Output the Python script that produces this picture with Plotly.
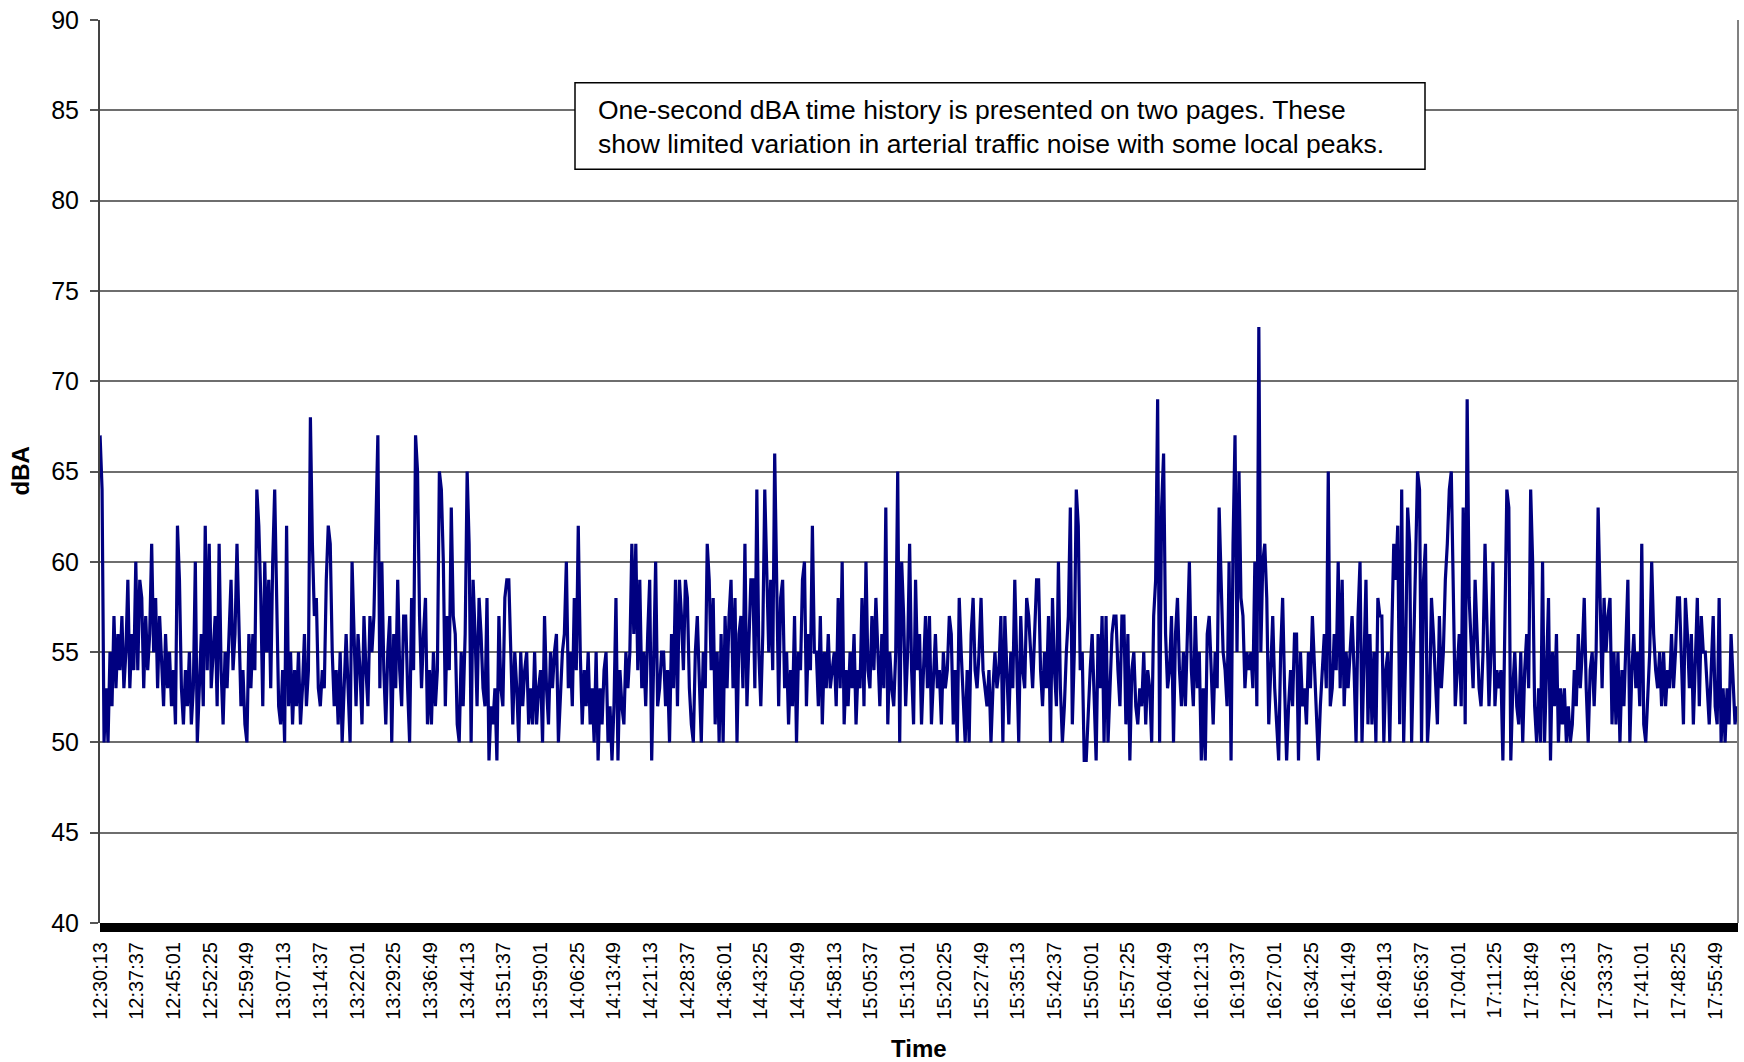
import pandas as pd
import plotly.graph_objects as go

# Sound level record (dBA), one reading every 24 s from 12:30:13
start_time = "2000-01-01 12:30:13"
step_seconds = 24
levels = [
    67, 64, 50, 53, 50, 55, 52, 57, 53, 56, 54, 57, 53, 55, 59, 53, 56, 54, 60, 54,
    59, 58, 53, 57, 54, 56, 61, 55, 58, 53, 57, 54, 52, 56, 53, 55, 52, 54, 51, 62,
    59, 53, 51, 54, 52, 55, 51, 53, 60, 50, 53, 56, 52, 62, 54, 61, 53, 55, 57, 52,
    61, 54, 51, 55, 53, 56, 59, 54, 56, 61, 56, 52, 54, 51, 50, 56, 53, 56, 54, 64,
    62, 58, 52, 60, 55, 59, 53, 60, 64, 57, 52, 51, 54, 50, 62, 52, 55, 51, 54, 52,
    55, 51, 53, 56, 52, 54, 68, 61, 57, 58, 53, 52, 54, 53, 59, 62, 61, 55, 52, 54,
    51, 55, 50, 53, 56, 53, 50, 60, 56, 52, 56, 54, 51, 57, 54, 52, 57, 55, 57, 62,
    67, 53, 60, 54, 51, 55, 57, 50, 56, 53, 59, 54, 52, 57, 57, 53, 50, 58, 54, 67,
    65, 57, 53, 56, 58, 51, 54, 51, 55, 52, 54, 65, 64, 60, 52, 57, 54, 63, 57, 56,
    51, 50, 55, 52, 56, 65, 61, 50, 59, 56, 52, 58, 56, 53, 52, 58, 49, 52, 51, 53,
    49, 57, 53, 52, 58, 59, 59, 55, 51, 55, 53, 50, 55, 52, 54, 55, 51, 53, 51, 55,
    51, 53, 54, 50, 57, 53, 51, 55, 53, 55, 56, 50, 53, 55, 56, 60, 53, 55, 52, 58,
    54, 62, 55, 51, 54, 52, 55, 51, 53, 50, 55, 49, 53, 51, 54, 55, 50, 52, 49, 52,
    58, 49, 54, 52, 51, 55, 53, 55, 61, 56, 61, 54, 59, 53, 55, 52, 56, 59, 49, 54,
    60, 52, 53, 55, 55, 52, 54, 50, 56, 53, 59, 52, 59, 57, 54, 59, 58, 53, 51, 50,
    55, 57, 53, 50, 55, 53, 61, 59, 54, 58, 51, 55, 50, 56, 50, 57, 53, 57, 59, 53,
    58, 50, 56, 57, 53, 61, 52, 55, 59, 59, 53, 64, 55, 52, 56, 64, 60, 55, 59, 54,
    66, 59, 52, 58, 59, 53, 55, 51, 54, 52, 57, 50, 55, 54, 59, 60, 52, 56, 54, 62,
    55, 55, 52, 57, 51, 55, 53, 56, 53, 54, 55, 52, 58, 53, 60, 51, 54, 52, 55, 53,
    56, 51, 54, 53, 58, 52, 60, 54, 53, 57, 54, 58, 55, 52, 56, 53, 63, 51, 55, 53,
    52, 55, 65, 50, 60, 57, 52, 55, 61, 54, 51, 59, 54, 56, 51, 54, 57, 53, 57, 51,
    54, 56, 53, 54, 51, 55, 53, 54, 57, 56, 51, 54, 50, 58, 55, 52, 50, 54, 50, 56,
    58, 54, 53, 55, 58, 54, 53, 52, 54, 50, 53, 55, 53, 54, 57, 50, 57, 54, 51, 55,
    53, 59, 54, 50, 57, 54, 53, 58, 57, 55, 53, 56, 59, 59, 54, 52, 55, 53, 57, 50,
    58, 54, 52, 60, 53, 50, 52, 55, 57, 63, 51, 55, 64, 62, 54, 55, 49, 49, 52, 54,
    56, 52, 49, 56, 53, 57, 50, 57, 50, 53, 56, 57, 57, 54, 52, 57, 57, 51, 56, 49,
    54, 55, 52, 51, 53, 52, 55, 51, 54, 53, 50, 57, 59, 69, 50, 63, 66, 56, 53, 54,
    57, 50, 56, 58, 54, 52, 55, 52, 56, 60, 54, 52, 57, 53, 55, 49, 53, 49, 56, 57,
    54, 51, 55, 53, 63, 58, 55, 54, 52, 60, 49, 61, 67, 55, 65, 58, 57, 53, 55, 54,
    55, 53, 60, 52, 73, 55, 60, 61, 58, 51, 54, 57, 53, 51, 49, 55, 58, 53, 49, 52,
    54, 52, 56, 56, 49, 55, 52, 53, 51, 55, 53, 57, 54, 52, 49, 52, 54, 56, 53, 65,
    52, 53, 56, 54, 60, 53, 59, 52, 55, 53, 55, 57, 54, 50, 57, 60, 50, 55, 59, 51,
    56, 51, 55, 50, 58, 57, 57, 50, 54, 55, 50, 56, 61, 59, 62, 51, 64, 50, 55, 63,
    61, 50, 56, 60, 65, 64, 50, 59, 61, 50, 52, 58, 56, 53, 51, 57, 53, 55, 59, 61,
    64, 65, 57, 52, 54, 56, 52, 63, 51, 69, 58, 55, 53, 59, 56, 53, 52, 55, 61, 57,
    52, 55, 60, 52, 54, 53, 54, 49, 57, 64, 63, 49, 53, 55, 52, 51, 55, 50, 54, 56,
    53, 64, 60, 52, 50, 53, 50, 60, 50, 55, 58, 49, 55, 52, 56, 50, 53, 51, 53, 50,
    52, 50, 51, 54, 52, 56, 53, 55, 58, 53, 50, 54, 55, 52, 55, 63, 58, 53, 58, 55,
    57, 58, 51, 55, 51, 55, 50, 54, 52, 55, 59, 50, 54, 56, 53, 55, 52, 61, 51, 50,
    53, 55, 60, 56, 54, 53, 55, 52, 55, 52, 54, 53, 56, 53, 55, 58, 58, 54, 51, 58,
    56, 53, 56, 51, 54, 58, 52, 57, 55, 55, 53, 51, 54, 57, 52, 51, 58, 50, 53, 50,
    53, 51, 56, 53, 51, 52,
]

tick_labels = [
    "12:30:13", "12:37:37", "12:45:01", "12:52:25", "12:59:49", "13:07:13", "13:14:37",
    "13:22:01", "13:29:25", "13:36:49", "13:44:13", "13:51:37", "13:59:01", "14:06:25",
    "14:13:49", "14:21:13", "14:28:37", "14:36:01", "14:43:25", "14:50:49", "14:58:13",
    "15:05:37", "15:13:01", "15:20:25", "15:27:49", "15:35:13", "15:42:37", "15:50:01",
    "15:57:25", "16:04:49", "16:12:13", "16:19:37", "16:27:01", "16:34:25", "16:41:49",
    "16:49:13", "16:56:37", "17:04:01", "17:11:25", "17:18:49", "17:26:13", "17:33:37",
    "17:41:01", "17:48:25", "17:55:49",
]
y_ticks = [40, 45, 50, 55, 60, 65, 70, 75, 80, 85, 90]

note_text = ("One-second dBA time history is presented on two pages. These<br>"
             "show limited variation in arterial traffic noise with some local peaks.")

times = pd.date_range(start=start_time, periods=len(levels), freq=f"{step_seconds}s")
tick_vals = pd.to_datetime(["2000-01-01 " + t for t in tick_labels])

FONT = "Liberation Sans, Arial, sans-serif"

# plot-area geometry in pixels, used to place the note box
PLOT_L, PLOT_T, PLOT_W, PLOT_H = 100, 16, 1638, 907


def px_x(px):
    return (px - PLOT_L) / PLOT_W


def px_y(py):
    return (PLOT_T + PLOT_H - py) / PLOT_H


fig = go.Figure()
fig.add_trace(go.Scatter(
    x=times, y=levels, mode="lines",
    line=dict(color="#000080", width=3.2),
    hoverinfo="skip", showlegend=False,
))

fig.update_layout(
    width=1744, height=1062,
    margin=dict(l=PLOT_L, r=1744 - PLOT_L - PLOT_W, t=PLOT_T, b=1062 - PLOT_T - PLOT_H),
    paper_bgcolor="white", plot_bgcolor="white",
    font=dict(family=FONT, color="black"),
    xaxis=dict(
        type="date",
        range=["2000-01-01 12:30:12", "2000-01-01 18:00:25"],
        tickmode="array", tickvals=tick_vals, ticktext=tick_labels,
        tickangle=-90, tickfont=dict(size=20, family=FONT),
        ticks="", showgrid=False, zeroline=False,
        showline=False, mirror=False,
        ticklabelstandoff=14,
    ),
    yaxis=dict(
        range=[40, 90], tickvals=y_ticks,
        tickfont=dict(size=25, family=FONT),
        ticks="outside", ticklen=8, tickwidth=1.5, tickcolor="#555555",
        showgrid=True, gridcolor="#6e6e6e", gridwidth=1.5,
        showline=True, linecolor="#444444", linewidth=2,
        zeroline=False, ticklabelstandoff=6,
    ),
    shapes=[
        # right border of the plot area
        dict(type="line", xref="paper", yref="paper", x0=1, x1=1, y0=0, y1=1,
             line=dict(color="#808080", width=2)),
        # dense category tick band along the time axis
        dict(type="rect", xref="paper", yref="paper", x0=0, x1=1,
             ysizemode="pixel", yanchor=0, y0=-9, y1=0,
             fillcolor="black", line=dict(width=0)),
        # frame of the note box
        dict(type="rect", xref="paper", yref="paper",
             x0=px_x(575), x1=px_x(1425), y0=px_y(166), y1=px_y(79),
             fillcolor="white", line=dict(color="black", width=1.5), layer="above"),
    ],
    annotations=[
        dict(text="<b>dBA</b>", xref="paper", yref="paper", x=0, y=0.5,
             xshift=-80, xanchor="center", yanchor="middle", textangle=-90,
             showarrow=False, font=dict(size=24, family=FONT)),
        dict(text="<b>Time</b>", xref="paper", yref="paper", x=0.5, y=0,
             yshift=-125, xanchor="center", yanchor="middle",
             showarrow=False, font=dict(size=24, family=FONT)),
        dict(text=note_text, xref="paper", yref="paper",
             x=px_x(596), y=px_y(123),
             xanchor="left", yanchor="middle", align="left", showarrow=False,
             font=dict(size=26.5, family=FONT)),
    ],
)

fig.write_html("out.html")
